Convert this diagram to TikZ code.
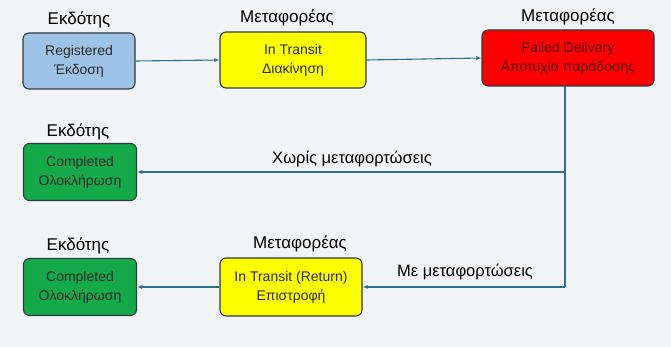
\documentclass[tikz,border=0pt]{standalone}
\usepackage{fontspec}
\setmainfont{Liberation Sans}
\usetikzlibrary{arrows.meta}
\definecolor{bgc}{HTML}{F1F4F6}
\definecolor{linec}{HTML}{2F6F8C}
\definecolor{edgec}{HTML}{2B3A40}
\definecolor{bluef}{HTML}{9DC3E6}
\definecolor{yelf}{HTML}{FFFF00}
\definecolor{redf}{HTML}{FF0000}
\definecolor{greenf}{HTML}{14AA4A}
\definecolor{txtc}{HTML}{2A2A2A}
\definecolor{redtxt}{HTML}{5C0000}
\tikzset{
  statebox/.style={draw=edgec, line width=1.1pt, rounded corners=6pt, align=center,
    font=\fontsize{14}{19}\selectfont, text=txtc, inner sep=0pt},
  hdr/.style={font=\fontsize{17}{19}\selectfont, text=black, inner sep=0pt},
  lbl/.style={font=\fontsize{16.5}{19}\selectfont, text=black, inner sep=0pt},
  conn/.style={draw=linec, line width=1.1pt, -{Latex[length=5pt,width=4pt]}},
  plain/.style={draw=linec, line width=1.1pt}
}
\begin{document}
\begin{tikzpicture}[x=1pt,y=-1pt]
\fill[bgc] (0,0) rectangle (671,347);
\useasboundingbox (0,0) rectangle (671,347);
% boxes
\node[statebox, fill=bluef, minimum width=112pt, minimum height=56pt] (reg) at (79,61) {Registered\\Έκδοση};
\node[statebox, fill=yelf, minimum width=146pt, minimum height=56pt] (tr) at (293,60) {In Transit\\Διακίνηση};
\node[statebox, fill=redf, text=redtxt, minimum width=172pt, minimum height=56pt] (fail) at (568,58) {Failed Delivery\\Αποτυχία παράδοσης};
\node[statebox, fill=greenf, minimum width=113pt, minimum height=57pt] (comp1) at (80,172) {Completed\\Ολοκλήρωση};
\node[statebox, fill=greenf, minimum width=113pt, minimum height=57pt] (comp2) at (80,287) {Completed\\Ολοκλήρωση};
\node[statebox, fill=yelf, minimum width=142pt, minimum height=58pt] (ret) at (291,287) {In Transit (Return)\\Επιστροφή};
% headers
\node[hdr] (h1) at (79,20) {Εκδότης};
\node[hdr] (h2) at (287,18) {Μεταφορέας};
\node[hdr] (h3) at (568,17) {Μεταφορέας};
\node[hdr] (h4) at (78,132) {Εκδότης};
\node[hdr] (h5) at (78,246) {Εκδότης};
\node[hdr] (h6) at (300,244) {Μεταφορέας};
% connectors
\coordinate (drop) at (565,86);
\coordinate (j1) at (565,172);
\coordinate (j2) at (565,287);
\draw[conn] (reg.east) -- (tr.west);
\draw[conn] (tr.east) -- (fail.west);
\draw[plain] (drop) -- (j2);
\draw[conn] (j1) -- (comp1.east);
\draw[conn] (j2) -- (ret.east);
\draw[conn] (ret.west) -- (comp2.east);
% labels
\node[lbl] (l1) at (352,159) {Χωρίς μεταφορτώσεις};
\node[lbl] (l2) at (465,272) {Με μεταφορτώσεις};
\end{tikzpicture}
\end{document}
